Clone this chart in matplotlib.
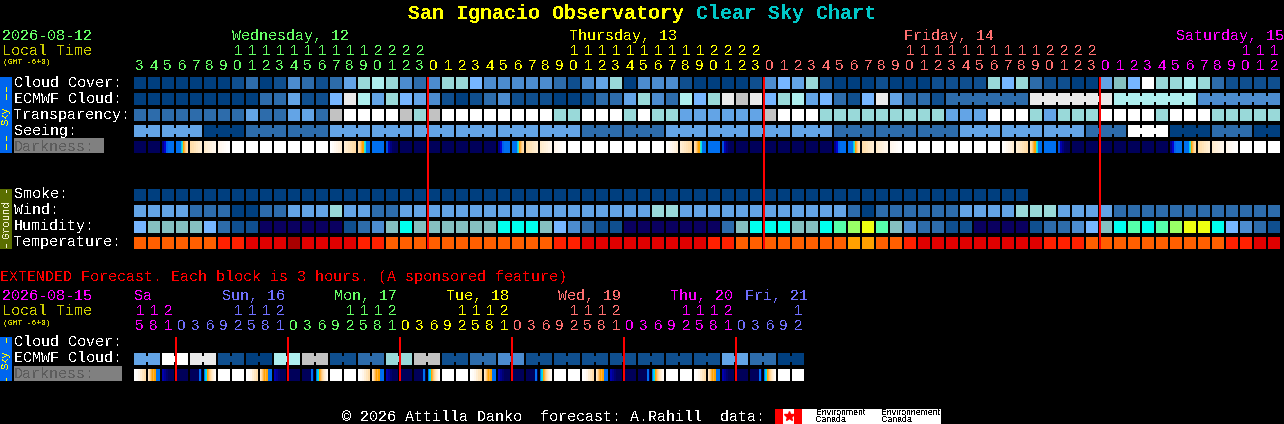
import matplotlib
matplotlib.use('Agg')
import matplotlib.pyplot as plt

plt.rcParams['font.family'] = ['Liberation Mono']
plt.rcParams['text.antialiased'] = False

# Block grid, in pixels of the picture
CELL_X0 = 134
CELL_PITCH = 14
CELL_SIZE = 12
PX_TO_PT = 0.72

# Block colours
COLORS = {
    'd': '#003F7F', 'e': '#0F4F8F', 'm': '#2D6CAB', 'k': '#4C8CCF', 'l': '#63A4E6',
    'p': '#76B6FF', 't': '#99D9D9', 'c': '#AEEEEE', 'x': '#85C0C0', 'w': '#FFFFFF',
    'g': '#EAEAEA', 'y': '#C2C2C2', 'n': '#0A0060', 'C': '#00FFEE', 'S': '#55FFAA',
    'L': '#99FF66', 'Y': '#EEFF11', 'o': '#FF5F00', 'r': '#FF2000', 'R': '#E00000',
    'D': '#A80000', 'a': '#FFA000',
}

# Forecast rows, one letter per hour block
CLOUD = ("dddddddemd" "ekmemltctk" "mkttpkkkkk" "mekltdkkke" "ddddekplte"
         "dddedddeee" "etptmeeddl" "xpwttctmee" "ee")
ECMWF = ("dddddddddm" "mleepgcltp" "lkedemkeee" "ddemmltkmc" "ptgygptclp"
         "mepglmmemm" "mmmmgggggg" "cccccckkkk" "kk")
TRANSPARENCY = ("mmmmmmmmlm" "mllmywwwwy" "tywwwwwwww" "ttwwwtwttl" "lllllywwwt"
                "ttttttttll" "lwwwtltttw" "wwwtwwwttt" "tt")
SEEING = ("llllldddmm" "mmmmllllll" "llllllllll" "llmmmmmmll" "llllllllll"
          "mmmmmmmmml" "llllllllmm" "mwwwdddmmm" "dd")
SMOKE = "d" * 64
WIND = ("llllmmmddm" "mllltllmml" "llllllllll" "lllllllttl" "llllllllll"
        "lmdmmmmmml" "llltttllll" "mmmmmmmmmm" "mm")
HUMIDITY = ("pxxxxpmeen" "nnnnnemkxC" "xxxxxxCCCx" "pkmeennnnn" "nnmxCCCxxC"
            "SLYSxkmmee" "nnnnemmkpx" "CSCSLYYCpk" "me")
TEMPERATURE = ("oooooorrRR" "RDRRRRrroo" "oooooooooo" "rrRRRRRRRR" "Rrrooooooo"
               "oaaoorRRRR" "RRRRRrrroo" "oooooooorr" "RR")
DARKNESS = ("nnabcdewww" "wwwwEDBSAn" "nnnnnnabcd" "ewwwwwwwED" "BSAnnnnnnn"
            "abcdewwwww" "wwEDBSAnnn" "nnnnabcdew" "ww")

# Where the long range part of the ECMWF row runs as joined blocks
ECMWF_JOINED = [(58, 63), (64, 69), (70, 75), (76, 81)]

# Extended rows: cloud has one letter per pair of 3 hour blocks
EXT_ECMWF = "lwgedcyemtyemkeeeeeeelmd"
EXT_DARKNESS = "pqrnvxww" "pqrnvxww" "pqrnvxww" "pqrnvxww" "pqrnvxww" "pqrnvxww"

# Colour stops across one darkness block
DARK_STOPS = {
    'n': ['#00005A'],
    'w': ['#FFFFFF'],
    'a': ['#00008C', '#0000D0', '#0060F0', '#0070F0', '#0070F0', '#0070F0'],
    'b': ['#0070F0', '#0070F0', '#0070F0', '#0070F0', '#0070F0', '#00C8F0',
          '#40E0C0', '#FFA500', '#FFB040', '#FFC878', '#FFD8A0', '#FFDDAA'],
    'c': ['#FFDDAA', '#FFE0B0', '#FFE4BA', '#FFE8C4', '#FFEBCC', '#FFEED4'],
    'd': ['#FFEBCC', '#FFEED4', '#FFF0DA', '#FFF2E0', '#FFF5E8', '#FFF7EC'],
    'e': ['#FFF6EC', '#FFF8F0', '#FFFAF4', '#FFFCF8', '#FFFEFC', '#FFFFFF'],
    'E': ['#FFFFFF', '#FFFCF8', '#FFF8F0', '#FFF5E8', '#FFF2E0', '#FFEED4'],
    'D': ['#FFEED4', '#FFEACA', '#FFE6C0', '#FFE2B6', '#FFDEAC', '#FFDAA4'],
    'B': ['#FFDDAA', '#FFD8A0', '#FFC878', '#FFB040', '#FFA500', '#FFA500',
          '#40E0C0', '#00E0F0', '#0070F0', '#0070F0', '#0070F0', '#0070F0'],
    'S': ['#0070F0'],
    'A': ['#0050E0', '#0000B0', '#000080', '#000060', '#00005A', '#00005A'],
    'p': ['#FFFFFF', '#FFFCF8', '#FFF6EC', '#FFEED4', '#FFE6C0', '#FFDDAA'],
    'q': ['#FFE8C8', '#FFDDAA', '#FFC878', '#FFB040', '#FFA500', '#FFB040',
          '#FFA500', '#FFA000', '#0070F0', '#0070F0', '#0070F0', '#0070F0'],
    'r': ['#0000B0', '#000090', '#000070', '#00005A', '#00005A', '#00005A'],
    'v': ['#00005A', '#00005A', '#00005A', '#00005A', '#00005A', '#00005A',
          '#00005A', '#00005A', '#00005A', '#0070F0', '#0070F0', '#00005A'],
    'x': ['#0070F0', '#00C8F0', '#00E0F0', '#FFA500', '#FFB040', '#FFC878',
          '#FFD8A0', '#FFE4BA', '#FFECD0', '#FFF2E0', '#FFF8F0', '#FFFCF8'],
}

# Tick labels, hours as digit strings
UNITS = ("345678901234567890123" "012345678901234567890123"
         "012345678901234567890123" "0123456789012")
TENS = ("       11111111112222" "          11111111112222"
        "          11111111112222" "          111")
UNITS_DAY = [0] * 21 + [1] * 24 + [2] * 24 + [3] * 13
DAY_COLORS = ['#66FF66', '#FFFF00', '#FF7070', '#FF00FF']
DAY_NAMES = ['Wednesday, 12', 'Thursday, 13', 'Friday, 14', 'Saturday, 15']
DAY_X = [232, 569, 904, 1176]

EXT_UNITS = "581" "03692581" "03692581" "03692581" "03692581" "03692581" "03692"
EXT_TENS = "112" "    1112" "    1112" "    1112" "    1112" "    1112" "    1"
EXT_DAY = [0] * 3 + [1] * 8 + [2] * 8 + [3] * 8 + [4] * 8 + [5] * 8 + [6] * 5
EXT_COLORS = ['#FF00FF', '#7070FF', '#66FF66', '#FFFF00', '#FF7070', '#FF00FF', '#7070FF']
EXT_NAMES = ['Sa', 'Sun, 16', 'Mon, 17', 'Tue, 18', 'Wed, 19', 'Thu, 20', 'Fri, 21']
EXT_NAME_X = [134, 222, 334, 446, 558, 670, 745]

MIDNIGHTS = [428, 764, 1100]
EXT_MIDNIGHTS = [176, 288, 400, 512, 624, 736]

fig = plt.figure(figsize=(12.84, 4.24), dpi=100, facecolor='black')
ax = fig.add_axes([0, 0, 1, 1])
ax.set_xlim(0, 1284)
ax.set_ylim(424, 0)
ax.axis('off')


def put_text(x, y, s, color, px=15, **kw):
    ax.text(x, y, s, color=color, fontsize=px * PX_TO_PT, va='baseline', **kw)


def put_digit(cx, y, s, color):
    # the picture's zeros have no dot, so digits use a plain face
    put_text(cx, y, s, color, px=15, ha='center', family='Liberation Sans')


def block(x, y, w, h, color, zorder=2):
    ax.bar(x, h, width=w, bottom=y, color=color, align='edge', linewidth=0,
           antialiased=False, zorder=zorder)


def draw_row(codes, top):
    for i, code in enumerate(codes):
        block(CELL_X0 + CELL_PITCH * i, top, CELL_SIZE, CELL_SIZE, COLORS[code])


def draw_dark_row(codes, top):
    for i, code in enumerate(codes):
        stops = DARK_STOPS[code]
        w = CELL_SIZE / len(stops)
        for j, color in enumerate(stops):
            block(CELL_X0 + CELL_PITCH * i + j * w, top, w, CELL_SIZE, color)


def draw_waist(i, top, color):
    # joined blocks share a waist across the gap
    x = CELL_X0 + CELL_PITCH * i + CELL_SIZE
    block(x, top + 3, CELL_PITCH - CELL_SIZE, CELL_SIZE - 6, color)


# Title
put_text(408, 19, 'San Ignacio Observatory', '#FFFF00', px=20, fontweight='bold')
put_text(696, 19, 'Clear Sky Chart', '#00C8C8', px=20, fontweight='bold')

# Top date block
put_text(2, 40, '2026-08-12', '#66FF66')
put_text(2, 55, 'Local Time', '#CCCC00')
put_text(3, 64, '(GMT -6+0)', '#CCCC00', px=8)

for name, x, color in zip(DAY_NAMES, DAY_X, DAY_COLORS):
    put_text(x, 40, name, color)
for i, (unit, ten, day) in enumerate(zip(UNITS, TENS, UNITS_DAY)):
    cx = CELL_X0 + CELL_PITCH * i + CELL_SIZE / 2
    put_digit(cx, 70, unit, DAY_COLORS[day])
    if ten != ' ':
        put_digit(cx, 55, ten, DAY_COLORS[day])

# Row names
for name, y in zip(['Cloud Cover:', 'ECMWF Cloud:', 'Transparency:', 'Seeing:'],
                   [87, 103, 119, 135]):
    put_text(14, y, name, 'white')
for name, y in zip(['Smoke:', 'Wind:', 'Humidity:', 'Temperature:'],
                   [198, 214, 230, 246]):
    put_text(14, y, name, 'white')
block(14, 138, 90, 15, '#808080')
put_text(14, 151, 'Darkness:', '#5C5C5C', zorder=3)

# Main rows
draw_row(CLOUD, 77)
draw_row(ECMWF, 93)
for start, stop in ECMWF_JOINED:
    for i in range(start, stop):
        draw_waist(i, 93, COLORS[ECMWF[i]])
draw_row(TRANSPARENCY, 109)
draw_row(SEEING, 125)
for i in range(len(SEEING) - 1):
    if (i + 1 - 2) % 3 != 0:
        draw_waist(i, 125, COLORS[SEEING[i]])
draw_dark_row(DARKNESS, 141)
draw_row(SMOKE, 189)
draw_row(WIND, 205)
draw_row(HUMIDITY, 221)
draw_row(TEMPERATURE, 237)

for x in MIDNIGHTS:
    block(x - 1, 77, 2, 172, '#FF0000', zorder=4)

# Side bars
block(0, 77, 12, 76, '#0066EE')
block(0, 189, 12, 60, '#5A6E00')
block(0, 337, 12, 44, '#0066EE')
ax.text(6, 115.5, 'Sky', color='#FFFF00', fontsize=7.5, rotation=90,
        ha='center', va='center', zorder=3)
ax.text(6, 219.5, 'Ground', color='#F0F0D0', fontsize=7.5, rotation=90,
        ha='center', va='center', zorder=3)
ax.text(6, 359.5, 'Sky', color='#FFFF00', fontsize=7.5, rotation=90,
        ha='center', va='center', zorder=3)
for y0, y1, color in [(87, 92, '#FFFF00'), (94, 100, '#FFFF00'), (136, 141, '#FFFF00'),
                      (144, 150, '#FFFF00'), (190, 193, '#F0F0D0'), (244, 248, '#F0F0D0'),
                      (338, 343, '#FFFF00'), (378, 381, '#FFFF00')]:
    block(5.5, y0, 1, y1 - y0, color, zorder=3)

# Extended forecast
put_text(0, 281, 'EXTENDED Forecast. Each block is 3 hours. (A sponsored feature)', '#FF0000')
put_text(2, 300, '2026-08-15', '#FF00FF')
put_text(2, 315, 'Local Time', '#CCCC00')
put_text(3, 325, '(GMT -6+0)', '#CCCC00', px=8)

for name, x, color in zip(EXT_NAMES, EXT_NAME_X, EXT_COLORS):
    put_text(x, 300, name, color)
for i, (unit, ten, day) in enumerate(zip(EXT_UNITS, EXT_TENS, EXT_DAY)):
    cx = CELL_X0 + CELL_PITCH * i + CELL_SIZE / 2
    put_digit(cx, 330, unit, EXT_COLORS[day])
    if ten != ' ':
        put_digit(cx, 315, ten, EXT_COLORS[day])

put_text(14, 346, 'Cloud Cover:', 'white')
put_text(14, 362, 'ECMWF Cloud:', 'white')
block(14, 366, 108, 15, '#808080')
put_text(14, 378, 'Darkness:', '#5C5C5C', zorder=3)

for i, code in enumerate(EXT_ECMWF):
    block(CELL_X0 + CELL_PITCH * 2 * i, 353, CELL_SIZE, CELL_SIZE, COLORS[code])
    block(CELL_X0 + CELL_PITCH * (2 * i + 1), 353, CELL_SIZE, CELL_SIZE, COLORS[code])
    draw_waist(2 * i, 353, COLORS[code])
draw_dark_row(EXT_DARKNESS, 369)
for x in EXT_MIDNIGHTS:
    block(x - 1, 337, 2, 44, '#FF0000', zorder=4)

# Footer and logo
put_text(342, 421, '\u00a9 2026 Attilla Danko  forecast: A.Rahill  data:', 'white')
block(775, 409, 166, 15, 'white')
block(775, 409, 8, 15, '#FF0000', zorder=3)
block(794, 409, 8, 15, '#FF0000', zorder=3)
ax.plot([788.5], [416], marker='*', color='#FF0000', markersize=7, linewidth=0, zorder=3)
for x, word in [(816, 'Environment'), (881, 'Environnement')]:
    ax.text(x, 415, word, color='black', fontsize=6.3, family='Liberation Sans',
            va='baseline', zorder=3)
    ax.text(x, 422, 'Canada', color='black', fontsize=6.3, family='Liberation Sans',
            va='baseline', zorder=3)

fig.savefig('out.png', dpi=100, facecolor='black')
